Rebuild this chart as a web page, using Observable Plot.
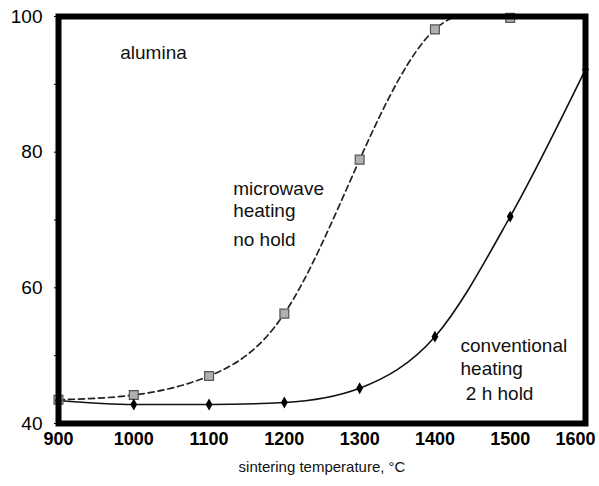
<!DOCTYPE html>
<html><head><meta charset="utf-8">
<script src="https://cdn.jsdelivr.net/npm/d3@7"></script>
<script src="https://cdn.jsdelivr.net/npm/@observablehq/plot@0.6"></script>
<style>body{margin:0;background:#fff;font-family:"Liberation Sans",Arial,sans-serif;}</style>
</head><body><div id="chart"></div>
<script>
const temps = [900, 1000, 1100, 1200, 1300, 1400, 1500, 1600];
const microwaveTemps = [900, 1000, 1100, 1200, 1300, 1400, 1500];
const microwave = [43.5, 44.2, 47.0, 56.2, 78.9, 98.1, 99.8];
const conventional = [43.4, 42.8, 42.8, 43.1, 45.2, 52.8, 70.5, 92.2];
const xTicks = [900, 1000, 1100, 1200, 1300, 1400, 1500];
const xTickLast = [1600];
const yTicks = [40, 60, 80, 100];
const yMinor = [50, 70, 90];
const xLabel = "sintering temperature, °C";

const mw = microwaveTemps.map((t, i) => ({t, v: microwave[i]}));
const cv = temps.map((t, i) => ({t, v: conventional[i]}));

const labels = [
  {t: 982, v: 94.7, text: "alumina"},
  {t: 1132, v: 74.6, text: "microwave"},
  {t: 1132, v: 71.3, text: "heating"},
  {t: 1132, v: 67.0, text: "no hold"},
  {t: 1434, v: 51.5, text: "conventional"},
  {t: 1434, v: 48.0, text: "heating"},
  {t: 1434, v: 44.4, text: " 2 h hold"}
];

const plot = Plot.plot({
  width: 599, height: 486,
  marginLeft: 58, marginRight: 14, marginTop: 16, marginBottom: 63,
  style: {fontFamily: '"Liberation Sans", Arial, sans-serif', fontSize: "19px", color: "#000", background: "#fff"},
  x: {type: "linear", domain: [900, 1600]},
  y: {type: "linear", domain: [40, 100]},
  marks: [
    Plot.axisX(xTicks, {tickSize: 0, tickPadding: 9, tickFormat: "d", fontSize: 18, fontWeight: "bold", label: null}),
    Plot.axisX(xTickLast, {tickSize: 0, tickPadding: 9, tickFormat: "d", fontSize: 18, fontWeight: "bold", textAnchor: "end", dx: 10, label: null}),
    Plot.text([xLabel], {frameAnchor: "bottom", dy: 48, text: d => d, fontSize: 15, fill: "#111"}),
    Plot.axisY(yTicks, {tickSize: 4, tickPadding: 12, fontSize: 19, label: null}),
    Plot.axisY(yMinor, {tickSize: 4, text: null, label: null}),
    Plot.line(mw, {x: "t", y: "v", curve: "natural", stroke: "#222", strokeWidth: 1.7, strokeDasharray: "6,4", clip: true}),
    Plot.line(cv, {x: "t", y: "v", curve: "monotone-x", stroke: "#111", strokeWidth: 1.6, clip: true}),
    Plot.dot(mw, {x: "t", y: "v", symbol: "square", r: 5, fill: "#b0b0b0", stroke: "#555", strokeWidth: 1.2}),
    Plot.dot(cv, {x: "t", y: "v", symbol: "diamond", r: 3.6, fill: "#000"}),
    Plot.text(labels, {x: "t", y: "v", text: "text", textAnchor: "start", fontSize: 19, fill: "#111"}),
    Plot.frame({stroke: "#000", strokeWidth: 6})
  ]
});
document.getElementById("chart").appendChild(plot);
</script></body></html>
